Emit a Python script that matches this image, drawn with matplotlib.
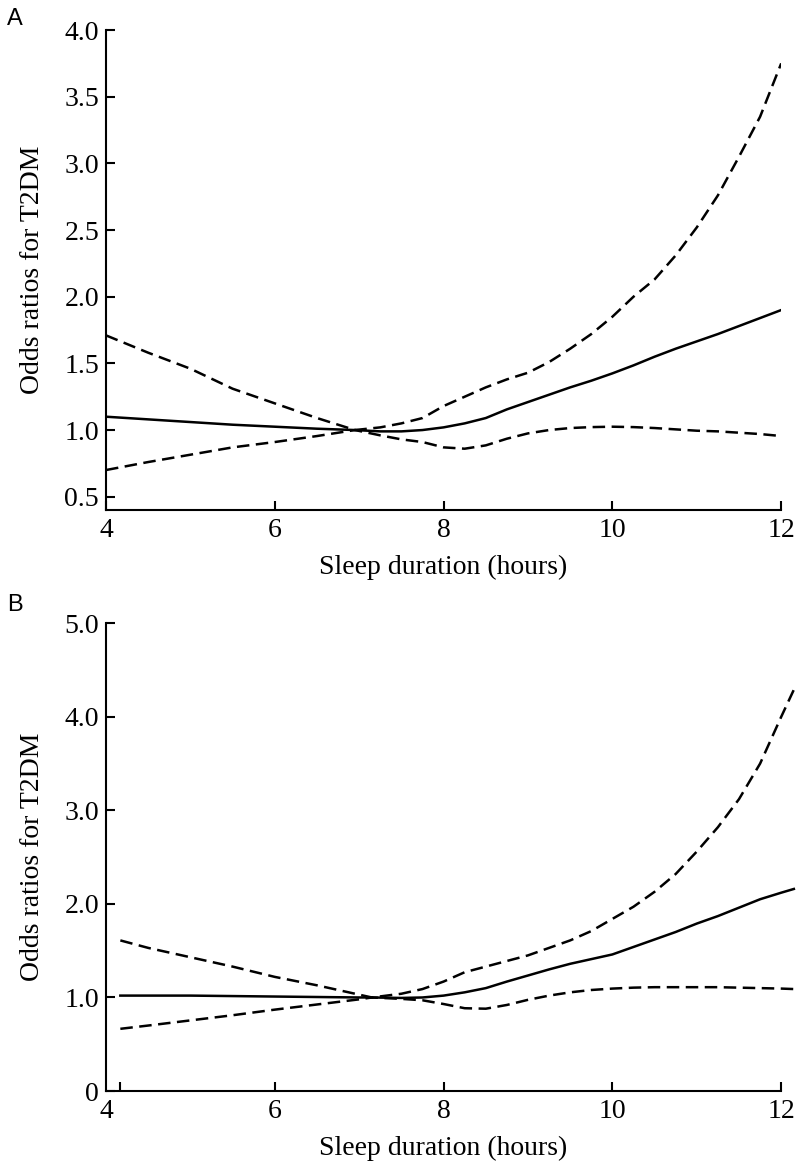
import matplotlib
matplotlib.use("Agg")
import matplotlib.pyplot as plt

# ---------------- Data ----------------
# Panel A
hours_a = [4.0, 4.5, 5.0, 5.5, 6.0, 6.5, 6.95, 7.25, 7.5, 7.75, 8.0, 8.25, 8.5,
           8.75, 9.0, 9.25, 9.5, 9.75, 10.0, 10.25, 10.5, 10.75, 11.0, 11.25,
           11.5, 11.75, 12.0]
or_a = [1.10, 1.08, 1.06, 1.04, 1.025, 1.01, 1.0, 0.99, 0.99, 1.0, 1.02, 1.05,
        1.09, 1.155, 1.21, 1.265, 1.32, 1.37, 1.425, 1.485, 1.55, 1.61, 1.665,
        1.72, 1.78, 1.84, 1.90]
upper_a = [1.71, 1.58, 1.46, 1.31, 1.20, 1.09, 1.0, 1.02, 1.05, 1.09, 1.18, 1.25,
           1.32, 1.38, 1.43, 1.51, 1.61, 1.72, 1.85, 2.0, 2.13, 2.31, 2.52, 2.76,
           3.05, 3.35, 3.75]
lower_a = [0.70, 0.76, 0.815, 0.87, 0.91, 0.955, 1.0, 0.96, 0.93, 0.91, 0.87,
           0.86, 0.885, 0.935, 0.975, 1.0, 1.015, 1.022, 1.025, 1.022, 1.015,
           1.005, 0.995, 0.99, 0.98, 0.97, 0.955]

# Panel B
hours_b = [4.17, 4.5, 5.0, 5.5, 6.0, 6.5, 7.0, 7.15, 7.5, 7.75, 8.0, 8.25, 8.5,
           8.75, 9.0, 9.25, 9.5, 9.75, 10.0, 10.25, 10.5, 10.75, 11.0, 11.25,
           11.5, 11.75, 12.0, 12.15]
or_b = [1.02, 1.02, 1.02, 1.015, 1.01, 1.005, 1.0, 1.0, 0.995, 1.0, 1.02, 1.055,
        1.10, 1.17, 1.235, 1.30, 1.36, 1.41, 1.46, 1.54, 1.62, 1.70, 1.79, 1.87,
        1.96, 2.05, 2.12, 2.16]
upper_b = [1.61, 1.53, 1.43, 1.33, 1.22, 1.13, 1.03, 1.0, 1.04, 1.09, 1.17, 1.27,
           1.33, 1.39, 1.45, 1.53, 1.61, 1.71, 1.84, 1.97, 2.13, 2.32, 2.56, 2.82,
           3.12, 3.50, 4.0, 4.29]
lower_b = [0.665, 0.70, 0.755, 0.81, 0.87, 0.925, 0.98, 1.0, 0.985, 0.97, 0.93,
           0.885, 0.88, 0.92, 0.975, 1.02, 1.055, 1.08, 1.095, 1.105, 1.11, 1.11,
           1.11, 1.11, 1.105, 1.10, 1.095, 1.09]

xticks = [4, 6, 8, 10, 12]
xticklabels = ["4", "6", "8", "10", "12"]
yticks_a = [0.5, 1.0, 1.5, 2.0, 2.5, 3.0, 3.5, 4.0]
yticklabels_a = ["0.5", "1.0", "1.5", "2.0", "2.5", "3.0", "3.5", "4.0"]
yticks_b = [0, 1.0, 2.0, 3.0, 4.0, 5.0]
yticklabels_b = ["0", "1.0", "2.0", "3.0", "4.0", "5.0"]

xlabel = "Sleep duration (hours)"
ylabel = "Odds ratios for T2DM"

# ---------------- Figure ----------------
plt.rcParams['font.family'] = ['Liberation Serif', 'DejaVu Serif']
fig = plt.figure(figsize=(8.0, 11.65), dpi=100)

ax_a = fig.add_axes([0.1325, 0.5622, 0.844, 0.412])
ax_b = fig.add_axes([0.1325, 0.0635, 0.844, 0.4015])

LW = 1.8
DASH = (5, 2.6)
FS = 20


def style(ax, yticks, yticklabels, ylim):
    ax.set_xlim(4, 12)
    ax.set_ylim(*ylim)
    for s in ["top", "right"]:
        ax.spines[s].set_visible(False)
    for s in ["left", "bottom"]:
        ax.spines[s].set_linewidth(1.5)
    ax.set_xticks(xticks)
    ax.set_xticklabels(xticklabels)
    ax.set_yticks(yticks)
    ax.set_yticklabels(yticklabels)
    ax.tick_params(direction="in", length=6.5, width=1.5, labelsize=FS, pad=5)
    ax.tick_params(axis="x", pad=6)
    ax.set_xlabel(xlabel, fontsize=FS, labelpad=8)
    ax.set_ylabel(ylabel, fontsize=FS)
    ax.yaxis.set_label_coords(-0.09, 0.5)


# Panel A
ax_a.plot(hours_a, or_a, color="black", lw=LW)
ax_a.plot(hours_a, upper_a, color="black", lw=LW, dashes=DASH)
ax_a.plot(hours_a, lower_a, color="black", lw=LW, dashes=DASH)
style(ax_a, yticks_a, yticklabels_a, (0.40, 4.0))

# Panel B
ax_b.plot(hours_b, or_b, color="black", lw=LW, clip_on=False)
ax_b.plot(hours_b, upper_b, color="black", lw=LW, dashes=DASH, clip_on=False)
ax_b.plot(hours_b, lower_b, color="black", lw=LW, dashes=DASH, clip_on=False)
style(ax_b, yticks_b, yticklabels_b, (0, 5.0))
# first x tick sits at the start of the data, label "4" at the axis origin
ax_b.set_xticks([4.17], minor=True)
ax_b.tick_params(axis="x", which="minor", direction="in", length=6.5, width=1.5)
ax_b.xaxis.get_major_ticks()[0].tick1line.set_visible(False)

# Panel letters
fig.text(0.009, 0.974, "A", fontsize=17, family="Liberation Sans", va="bottom")
fig.text(0.009, 0.4715, "B", fontsize=17, family="Liberation Sans", va="bottom")

fig.savefig("out.png", dpi=100)
